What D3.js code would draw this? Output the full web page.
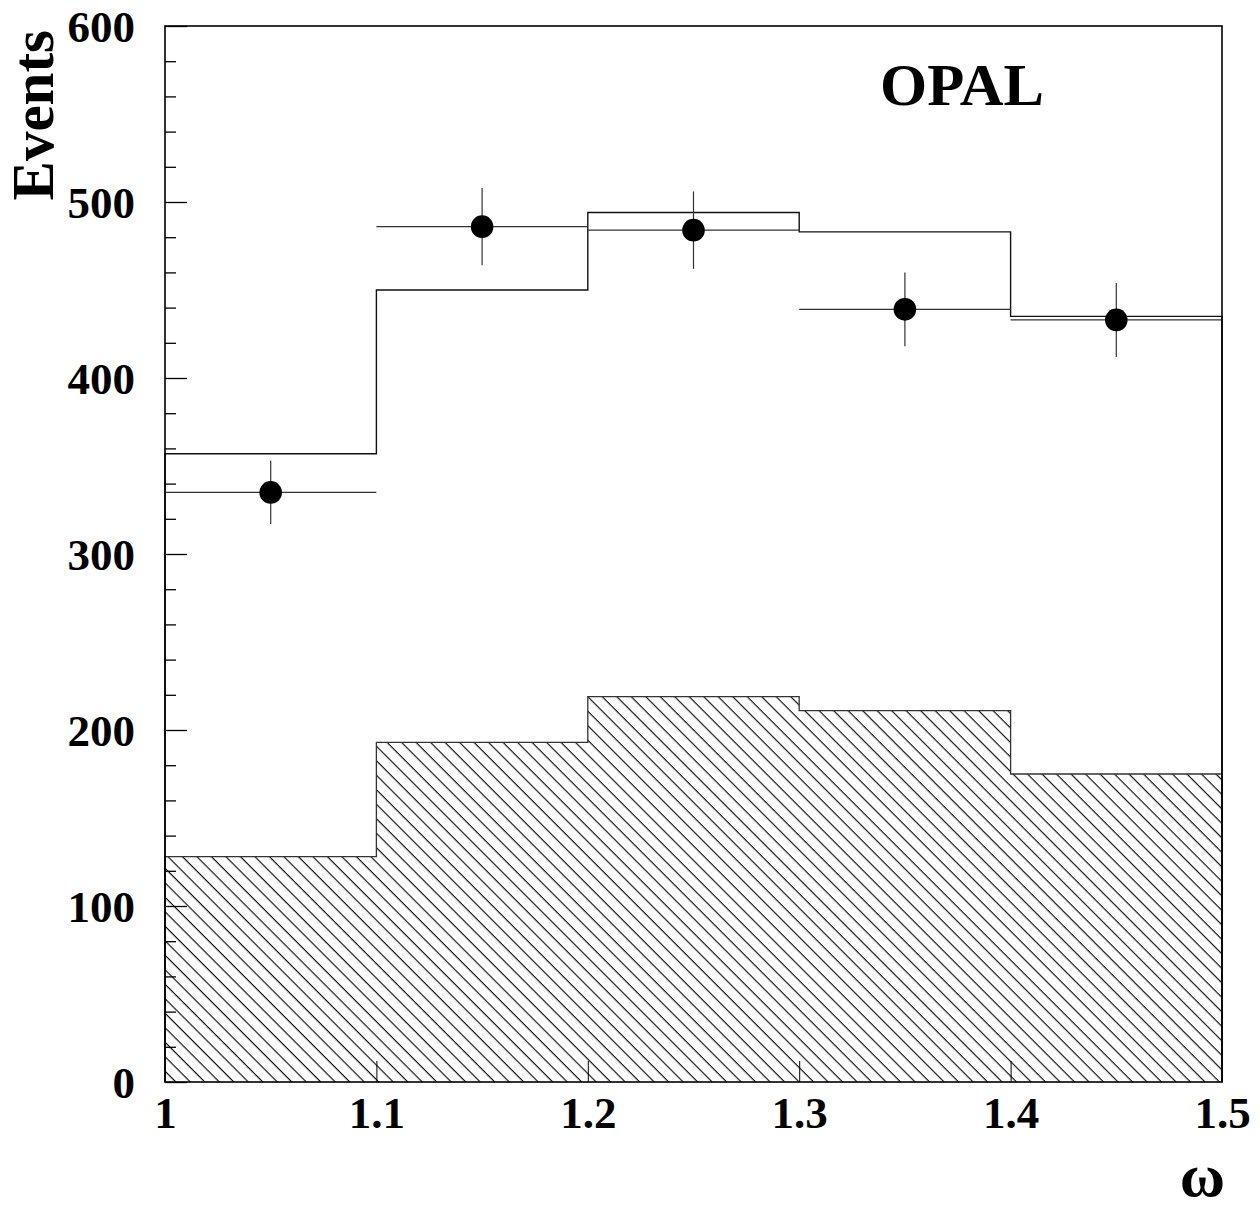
<!DOCTYPE html>
<html>
<head>
<meta charset="utf-8">
<script src="https://cdn.jsdelivr.net/npm/d3@7"></script>
<style>
  html, body { margin: 0; padding: 0; background: #fff; }
  svg { display: block; }
  text { font-family: "Liberation Serif", "Times New Roman", serif; font-weight: bold; fill: #000; }
</style>
</head>
<body>
<script>
// bin edges in omega
const binEdges = [1.0, 1.1, 1.2, 1.3, 1.4, 1.5];
// monte carlo prediction (open histogram)
const mcTotal = [357, 450, 494, 483, 435];
// background contribution (hatched)
const background = [128, 193, 219, 211, 175];
// data points with errors
const dataCenters = [1.05, 1.15, 1.25, 1.35, 1.45];
const dataValues = [335, 486, 484, 439, 433];
const dataErrors = [18, 22, 22, 21, 21];

const yMajorTicks = [0, 100, 200, 300, 400, 500, 600];
const xMajorTicks = [1, 1.1, 1.2, 1.3, 1.4, 1.5];

const width = 1260, height = 1210;
const margin = { left: 165, right: 38, top: 26, bottom: 128 };

const svg = d3.select("body").append("svg")
  .attr("width", width)
  .attr("height", height);

const x = d3.scaleLinear().domain([1, 1.5]).range([margin.left, width - margin.right]);
const y = d3.scaleLinear().domain([0, 600]).range([height - margin.bottom, margin.top]);

// hatch pattern for the background histogram
const defs = svg.append("defs");
const pat = defs.append("pattern")
  .attr("id", "hatch")
  .attr("patternUnits", "userSpaceOnUse")
  .attr("width", 10.25)
  .attr("height", 10)
  .attr("patternTransform", "rotate(-45)");
pat.append("line")
  .attr("x1", 5).attr("y1", -1).attr("x2", 5).attr("y2", 11)
  .attr("stroke", "#000").attr("stroke-width", 1.1);

// turn bin values into step points
function stepPoints(values) {
  const pts = [];
  values.forEach((v, i) => {
    pts.push([binEdges[i], v]);
    pts.push([binEdges[i + 1], v]);
  });
  return pts;
}

const line = d3.line().x(d => x(d[0])).y(d => y(d[1]));
const area = d3.area().x(d => x(d[0])).y0(y(0)).y1(d => y(d[1]));

// hatched background
const bgPts = stepPoints(background);
svg.append("path")
  .attr("d", area(bgPts))
  .attr("fill", "url(#hatch)");
svg.append("path")
  .attr("d", line([[binEdges[0], 0]].concat(bgPts).concat([[binEdges[binEdges.length - 1], 0]])))
  .attr("fill", "none")
  .attr("stroke", "#333")
  .attr("stroke-width", 1.3);

// open monte carlo histogram
const mcPts = stepPoints(mcTotal);
svg.append("path")
  .attr("d", line([[binEdges[0], 0]].concat(mcPts).concat([[binEdges[binEdges.length - 1], 0]])))
  .attr("fill", "none")
  .attr("stroke", "#111")
  .attr("stroke-width", 1.4);

// data points with error bars
const pts = svg.append("g");
dataCenters.forEach((c, i) => {
  const g = pts.append("g");
  g.append("line")
    .attr("x1", x(c - 0.05)).attr("x2", x(c + 0.05))
    .attr("y1", y(dataValues[i])).attr("y2", y(dataValues[i]))
    .attr("stroke", "#333").attr("stroke-width", 1.2);
  g.append("line")
    .attr("x1", x(c)).attr("x2", x(c))
    .attr("y1", y(dataValues[i] + dataErrors[i])).attr("y2", y(dataValues[i] - dataErrors[i]))
    .attr("stroke", "#333").attr("stroke-width", 1.2);
  g.append("circle")
    .attr("cx", x(c)).attr("cy", y(dataValues[i]))
    .attr("r", 11.3)
    .attr("fill", "#000");
});

// y axis: minor ticks, then major ticks with labels
const yMinor = d3.range(0, 601, 20).filter(v => v % 100 !== 0);
svg.append("g")
  .attr("transform", `translate(${x(1)},0)`)
  .call(d3.axisLeft(y).tickValues(yMinor).tickSize(-11).tickFormat(""))
  .call(g => g.select(".domain").remove())
  .selectAll("line").attr("stroke", "#000").attr("stroke-width", 1.3);

svg.append("g")
  .attr("transform", `translate(${x(1)},0)`)
  .call(d3.axisLeft(y).tickValues(yMajorTicks).tickSize(-22).tickPadding(30).tickFormat(d3.format("d")))
  .call(g => g.select(".domain").remove())
  .call(g => g.selectAll("line").attr("stroke", "#000").attr("stroke-width", 1.3))
  .call(g => g.selectAll("text")
    .attr("font-size", 45)
    .attr("font-family", "Liberation Serif, serif")
    .attr("font-weight", "bold")
    .attr("fill", "#000")
    .attr("dy", "0.35em"));

// x axis
svg.append("g")
  .attr("transform", `translate(0,${y(0)})`)
  .call(d3.axisBottom(x).tickValues(xMajorTicks).tickSize(-21).tickPadding(14).tickFormat(d => d3.format("")(+d.toFixed(1))))
  .call(g => g.select(".domain").remove())
  .call(g => g.selectAll("line").attr("stroke", "#000").attr("stroke-width", 1))
  .call(g => g.selectAll("text")
    .attr("font-size", 45)
    .attr("font-family", "Liberation Serif, serif")
    .attr("font-weight", "bold")
    .attr("fill", "#000"));

// frame
svg.append("rect")
  .attr("x", x(1)).attr("y", y(600))
  .attr("width", x(1.5) - x(1)).attr("height", y(0) - y(600))
  .attr("fill", "none")
  .attr("stroke", "#000")
  .attr("stroke-width", 1.6);

// titles
svg.append("text")
  .attr("transform", `translate(53,${y(600) + 4}) rotate(-90)`)
  .attr("text-anchor", "end")
  .attr("font-size", 59)
  .text("Events");

svg.append("text")
  .attr("x", 1225).attr("y", 1196)
  .attr("text-anchor", "end")
  .attr("font-size", 62)
  .text("ω");

svg.append("text")
  .attr("x", 880).attr("y", 105)
  .attr("font-size", 60)
  .attr("textLength", 164)
  .attr("lengthAdjust", "spacingAndGlyphs")
  .text("OPAL");
</script>
</body>
</html>
